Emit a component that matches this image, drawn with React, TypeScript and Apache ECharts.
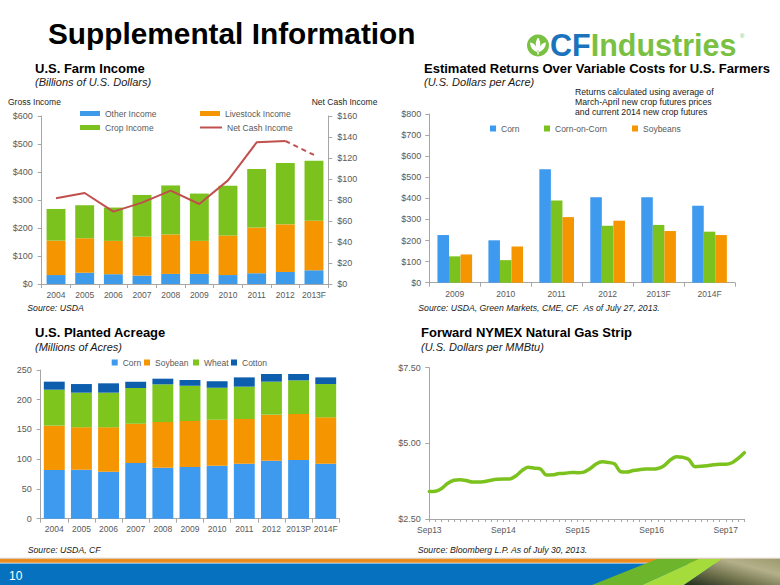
import React, { useEffect, useRef } from "react";
import * as echarts from "echarts";

const FONT = "'Liberation Sans', Arial, Helvetica, sans-serif";

// U.S. Farm Income (Billions of U.S. Dollars)
const farmYears = ["2004", "2005", "2006", "2007", "2008", "2009", "2010", "2011", "2012", "2013F"];
const otherIncome = [32, 40, 35, 30, 36, 36, 32, 38, 43, 49];
const livestockIncome = [123, 123, 119, 139, 141, 118, 141, 164, 170, 177];
const cropIncome = [113, 118, 119, 149, 175, 169, 178, 209, 219, 214];
const netCashIncome = [81.6, 86.7, 68.9, 77.5, 88.9, 76.2, 98.7, 134.9, 136.2, 122.9];

// Estimated Returns Over Variable Costs (U.S. Dollars per Acre)
const returnYears = ["2009", "2010", "2011", "2012", "2013F", "2014F"];
const cornReturns = [226, 201, 538, 405, 405, 365];
const cornOnCornReturns = [125, 107, 390, 270, 274, 242];
const soybeanReturns = [134, 172, 311, 294, 245, 226];

// U.S. Planted Acreage (Millions of Acres)
const acreYears = ["2004", "2005", "2006", "2007", "2008", "2009", "2010", "2011", "2012", "2013P", "2014F"];
const cornAcres = [81.8, 82.4, 79.0, 93.6, 85.8, 86.9, 89.1, 92.5, 97.5, 98.6, 92.5];
const soybeanAcres = [74.6, 71.2, 74.6, 66.1, 76.7, 77.3, 77.4, 75.1, 77.4, 77.4, 77.9];
const wheatAcres = [60.5, 58.3, 58.3, 60.0, 63.4, 59.4, 53.8, 54.4, 55.5, 56.6, 56.0];
const cottonAcres = [13.5, 14.5, 15.7, 10.7, 9.5, 9.6, 10.6, 15.6, 12.9, 10.7, 11.2];

// Forward NYMEX Natural Gas Strip (U.S. Dollars per MMBtu)
const gasMonths = [
  "Sep13", "Oct13", "Nov13", "Dec13",
  "Jan14", "Feb14", "Mar14", "Apr14", "May14", "Jun14", "Jul14", "Aug14", "Sep14", "Oct14", "Nov14", "Dec14",
  "Jan15", "Feb15", "Mar15", "Apr15", "May15", "Jun15", "Jul15", "Aug15", "Sep15", "Oct15", "Nov15", "Dec15",
  "Jan16", "Feb16", "Mar16", "Apr16", "May16", "Jun16", "Jul16", "Aug16", "Sep16", "Oct16", "Nov16", "Dec16",
  "Jan17", "Feb17", "Mar17", "Apr17", "May17", "Jun17", "Jul17", "Aug17", "Sep17", "Oct17", "Nov17", "Dec17",
];
const gasPrices = [
  3.41, 3.42, 3.51, 3.68,
  3.78, 3.80, 3.77, 3.72, 3.72, 3.74, 3.78, 3.81, 3.82, 3.82, 3.92, 4.10,
  4.21, 4.18, 4.15, 3.95, 3.96, 4.00, 4.01, 4.04, 4.03, 4.05, 4.16, 4.32,
  4.39, 4.37, 4.32, 4.06, 4.05, 4.10, 4.13, 4.15, 4.15, 4.17, 4.26, 4.45,
  4.56, 4.54, 4.47, 4.23, 4.24, 4.26, 4.29, 4.31, 4.31, 4.36, 4.50, 4.69,
];

const LEAF_PATH =
  "M11 3 C14 7 14 12 11 17 C8 12 8 7 11 3 Z " +
  "M3 8 C7 8 10 12 10.3 17.5 C6 16.5 3.5 13 3 8 Z " +
  "M19 8 C15 8 12 12 11.7 17.5 C16 16.5 18.5 13 19 8 Z " +
  "M10.3 17 L11.7 17 L11.7 20 L10.3 20 Z";

let leafRegistered = false;

const AXIS_COLOR = "#a6a6a6";
const LABEL_COLOR = "#595959";
const NET_CASH_COLOR = "#c0504d";

function txt(text: string, x: number, y: number, size: number, extra: any = {}) {
  return {
    type: "text",
    x,
    y,
    silent: true,
    style: {
      text,
      fontSize: size,
      fontFamily: FONT,
      fill: extra.fill || "#000",
      fontWeight: extra.fontWeight || "normal",
      fontStyle: extra.fontStyle || "normal",
      align: extra.align || "left",
      verticalAlign: "middle",
    },
  };
}

function catAxis(gridIndex: number, data: string[], extra: any = {}) {
  return {
    type: "category",
    gridIndex,
    data,
    boundaryGap: extra.boundaryGap !== undefined ? extra.boundaryGap : true,
    axisLine: { show: true, lineStyle: { color: AXIS_COLOR, width: 1 } },
    axisTick: { show: true, length: extra.tickLen || 4, interval: extra.tickInterval, lineStyle: { color: AXIS_COLOR } },
    axisLabel: {
      color: LABEL_COLOR,
      fontSize: 8.5,
      fontFamily: FONT,
      margin: extra.margin || 6,
      interval: extra.labelInterval !== undefined ? extra.labelInterval : 0,
    },
    splitLine: { show: false },
  };
}

function valAxis(gridIndex: number, min: number, max: number, interval: number, formatter: any, extra: any = {}) {
  return {
    type: "value",
    gridIndex,
    min,
    max,
    interval,
    position: extra.position || "left",
    axisLine: { show: true, lineStyle: { color: AXIS_COLOR, width: 1 } },
    axisTick: { show: true, length: 4, lineStyle: { color: AXIS_COLOR } },
    axisLabel: { color: LABEL_COLOR, fontSize: 9, fontFamily: FONT, margin: extra.margin || 9, formatter },
    splitLine: { show: false },
  };
}

function legendItem(name: string, left: number, top: number, w: number, h: number, icon?: string, color?: string) {
  const l: any = {
    data: [color ? { name, itemStyle: { color, borderWidth: 0 } } : name],
    left,
    top,
    padding: 0,
    itemWidth: w,
    itemHeight: h,
    selectedMode: false,
    textStyle: { color: LABEL_COLOR, fontSize: 8.5, fontFamily: FONT },
  };
  if (icon) l.icon = icon;
  return l;
}

export default function App() {
  const ref = useRef<HTMLDivElement>(null);

  useEffect(() => {
    if (!ref.current) return;
    if (!leafRegistered) {
      echarts.graphic.registerShape("cfleaf", echarts.graphic.extendPath(LEAF_PATH, {}));
      leafRegistered = true;
    }
    const chart = echarts.init(ref.current, null, { renderer: "svg" });

    const option: any = {
      animation: false,
      backgroundColor: "#ffffff",
      textStyle: { fontFamily: FONT },
      grid: [
        { left: 41.7, top: 116, width: 286.6, height: 168, outerBoundsMode: "none" },
        { left: 429.3, top: 114, width: 305.7, height: 168.7, outerBoundsMode: "none" },
        { left: 40.7, top: 370, width: 298.6, height: 148.7, outerBoundsMode: "none" },
        { left: 429.3, top: 367.7, width: 315, height: 151.3, outerBoundsMode: "none" },
      ],
      xAxis: [
        catAxis(0, farmYears),
        catAxis(1, returnYears, { margin: 7 }),
        catAxis(2, acreYears),
        catAxis(3, gasMonths, { boundaryGap: false, tickLen: 3, tickInterval: 0, labelInterval: 11 }),
      ],
      yAxis: [
        valAxis(0, 0, 600, 100, "${value}"),
        valAxis(0, 0, 160, 20, "${value}", { position: "right" }),
        valAxis(1, 0, 800, 100, "${value}", { margin: 8 }),
        valAxis(2, 0, 250, 50, "{value}"),
        valAxis(3, 2.5, 7.5, 2.5, (v: number) => "$" + v.toFixed(2), { margin: 8.5 }),
      ],
      legend: [
        legendItem("Other Income", 80, 109, 20, 5, "rect"),
        legendItem("Livestock Income", 200, 109, 20, 5, "rect"),
        legendItem("Crop Income", 80, 123, 20, 5, "rect"),
        legendItem("Net Cash Income", 200, 123, 22, 2, "rect", NET_CASH_COLOR),
        legendItem("Corn", 490, 124, 6, 6, "rect"),
        legendItem("Corn-on-Corn", 544, 124, 6, 6, "rect"),
        legendItem("Soybeans", 632, 124, 6, 6, "rect"),
        legendItem("Corn", 111.7, 358, 6, 6, "rect"),
        legendItem("Soybean", 144, 358, 6, 6, "rect"),
        legendItem("Wheat", 193, 358, 6, 6, "rect"),
        legendItem("Cotton", 231, 358, 6, 6, "rect"),
      ],
      series: [
        { name: "Other Income", type: "bar", xAxisIndex: 0, yAxisIndex: 0, stack: "farm", barWidth: "66%", data: otherIncome, itemStyle: { color: "#3d9be9" } },
        { name: "Livestock Income", type: "bar", xAxisIndex: 0, yAxisIndex: 0, stack: "farm", barWidth: "66%", data: livestockIncome, itemStyle: { color: "#f59500" } },
        { name: "Crop Income", type: "bar", xAxisIndex: 0, yAxisIndex: 0, stack: "farm", barWidth: "66%", data: cropIncome, itemStyle: { color: "#7cc21e" } },
        {
          name: "Net Cash Income", type: "line", xAxisIndex: 0, yAxisIndex: 1, symbol: "none", z: 5,
          color: NET_CASH_COLOR,
          data: netCashIncome.slice(0, 9),
          lineStyle: { color: NET_CASH_COLOR, width: 2 }, itemStyle: { color: NET_CASH_COLOR },
        },
        {
          name: "Net Cash Income Forecast", type: "line", xAxisIndex: 0, yAxisIndex: 1, symbol: "none", z: 5,
          color: NET_CASH_COLOR,
          data: netCashIncome.map((v, i) => (i >= 8 ? v : "-")),
          lineStyle: { color: NET_CASH_COLOR, width: 2, type: [5, 4] }, itemStyle: { color: NET_CASH_COLOR },
        },

        { name: "Corn", type: "bar", xAxisIndex: 1, yAxisIndex: 2, barGap: "0%", barCategoryGap: "32%", data: cornReturns, itemStyle: { color: "#3d9aef" } },
        { name: "Corn-on-Corn", type: "bar", xAxisIndex: 1, yAxisIndex: 2, barGap: "0%", barCategoryGap: "32%", data: cornOnCornReturns, itemStyle: { color: "#7cc21e" } },
        { name: "Soybeans", type: "bar", xAxisIndex: 1, yAxisIndex: 2, barGap: "0%", barCategoryGap: "32%", data: soybeanReturns, itemStyle: { color: "#f59500" } },

        { name: "Corn", type: "bar", xAxisIndex: 2, yAxisIndex: 3, stack: "acres", barWidth: "77%", data: cornAcres, itemStyle: { color: "#3d9aef" } },
        { name: "Soybean", type: "bar", xAxisIndex: 2, yAxisIndex: 3, stack: "acres", barWidth: "77%", data: soybeanAcres, itemStyle: { color: "#f59500" } },
        { name: "Wheat", type: "bar", xAxisIndex: 2, yAxisIndex: 3, stack: "acres", barWidth: "77%", data: wheatAcres, itemStyle: { color: "#7ec51e" } },
        { name: "Cotton", type: "bar", xAxisIndex: 2, yAxisIndex: 3, stack: "acres", barWidth: "77%", data: cottonAcres, itemStyle: { color: "#0d5fad" } },

        {
          name: "Natural Gas Strip", type: "line", xAxisIndex: 3, yAxisIndex: 4, symbol: "none", smooth: 0.3,
          data: gasPrices, lineStyle: { color: "#7cc21e", width: 3.5, cap: "round", join: "round" },
        },
      ],
      graphic: [
        // Footer
        { type: "rect", silent: true, shape: { x: 0, y: 557.8, width: 780, height: 1.2 }, style: { fill: "#d8ccb8" } },
        { type: "rect", silent: true, shape: { x: 0, y: 559, width: 780, height: 3.8 }, style: { fill: "#ee8c1f" } },
        { type: "rect", silent: true, shape: { x: 0, y: 563.5, width: 780, height: 21.5 }, style: { fill: "#0672bf" } },
        { type: "polygon", silent: true, shape: { points: [[592, 585], [657, 559], [699, 559], [642, 585]] }, style: { fill: "#6db52a" } },
        { type: "polygon", silent: true, shape: { points: [[642, 585], [699, 559], [722, 559], [684, 585]] }, style: { fill: "#a6db3c" } },
        {
          type: "polygon", silent: true, shape: { points: [[684, 585], [722, 559], [780, 559], [780, 585]] },
          style: {
            fill: new echarts.graphic.LinearGradient(0, 1, 1, 0, [
              { offset: 0, color: "#1f2b1c" },
              { offset: 0.35, color: "#6b6e48" },
              { offset: 0.7, color: "#b4b08a" },
              { offset: 1, color: "#9c9a6e" },
            ]),
          },
        },
        txt("10", 9, 576, 12, { fill: "#ffffff" }),

        // Main title
        txt("Supplemental Information", 48, 33, 29.8, { fontWeight: "bold" }),

        // Logo
        { type: "circle", silent: true, shape: { cx: 538, cy: 45.5, r: 11 }, style: { fill: "#7ac143" } },
        { type: "cfleaf", silent: true, x: 527, y: 34.5, scaleX: 1, scaleY: 1, style: { fill: "#ffffff" } },
        {
          type: "text", silent: true, x: 550, y: 45,
          style: {
            text: "{a|CF}{b|Industries}",
            verticalAlign: "middle",
            align: "left",
            fontFamily: FONT,
            rich: {
              a: { fill: "#1b73bb", fontSize: 30.5, fontWeight: "bold", fontFamily: FONT },
              b: { fill: "#7ac143", fontSize: 30.5, fontWeight: "bold", fontFamily: FONT },
            },
          },
        },
        txt("®", 740, 36, 6, { fill: "#7ac143" }),

        // Farm income texts
        txt("U.S. Farm Income", 35, 68, 13, { fontWeight: "bold" }),
        txt("(Billions of U.S. Dollars)", 35, 82, 11, { fontStyle: "italic", fill: "#1a1a1a" }),
        txt("Gross Income", 8, 101.7, 8.5, { fill: "#262626" }),
        txt("Net Cash Income", 311.7, 101.7, 8.5, { fill: "#262626" }),
        txt("Source: USDA", 27.3, 308.3, 8.7, { fontStyle: "italic", fill: "#1a1a1a" }),

        // Returns texts
        txt("Estimated Returns Over Variable Costs for U.S. Farmers", 424, 68, 13, { fontWeight: "bold" }),
        txt("(U.S. Dollars per Acre)", 424, 82, 11, { fontStyle: "italic", fill: "#1a1a1a" }),
        txt("Returns calculated using average of", 575, 91.7, 8.7, { fill: "#1a1a1a" }),
        txt("March-April new crop futures prices", 575, 101.9, 8.7, { fill: "#1a1a1a" }),
        txt("and current 2014 new crop futures", 575, 112.3, 8.7, { fill: "#1a1a1a" }),
        txt("Source: USDA, Green Markets, CME, CF.  As of July 27, 2013.", 418.3, 308.3, 8.7, { fontStyle: "italic", fill: "#1a1a1a" }),

        // Acreage texts
        txt("U.S. Planted Acreage", 35, 332.3, 13, { fontWeight: "bold" }),
        txt("(Millions of Acres)", 35, 346.7, 11, { fontStyle: "italic", fill: "#1a1a1a" }),
        txt("Source: USDA, CF", 27.7, 550, 8.7, { fontStyle: "italic", fill: "#1a1a1a" }),

        // Gas texts
        txt("Forward NYMEX Natural Gas Strip", 421, 332.3, 13, { fontWeight: "bold" }),
        txt("(U.S. Dollars per MMBtu)", 421, 346.7, 11, { fontStyle: "italic", fill: "#1a1a1a" }),
        txt("Source: Bloomberg L.P. As of July 30, 2013.", 417.7, 550, 8.7, { fontStyle: "italic", fill: "#1a1a1a" }),
      ],
    };

    chart.setOption(option);
    return () => {
      chart.dispose();
    };
  }, []);

  return (
    <div
      ref={ref}
      style={{ position: "absolute", left: 0, top: 0, width: 780, height: 585, background: "#ffffff" }}
    />
  );
}
